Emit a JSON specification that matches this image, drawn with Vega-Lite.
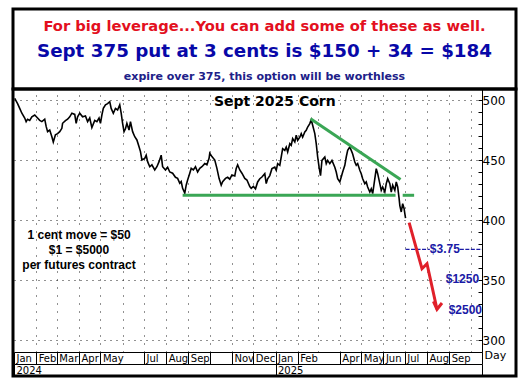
{
"$schema": "https://vega.github.io/schema/vega-lite/v6.json",
"padding": {"left": 10, "top": 7, "right": 6, "bottom": 9},
"background": "white",
"spacing": 0,
"bounds": "flush",
"config": {"view": {"stroke": "black", "strokeWidth": 3}, "font": "DejaVu Sans"},
"datasets": {
"header": [
{"line": 1, "text": "For big leverage...You can add some of these as well."},
{"line": 2, "text": "Sept 375 put at 3 cents is $150 + 34 = $184"},
{"line": 3, "text": "expire over 375, this option will be worthless"}
],
"price": [
{"date":"2024-01-02","price":501.4},{"date":"2024-01-06","price":497},{"date":"2024-01-09","price":493},{"date":"2024-01-12","price":489},{"date":"2024-01-16","price":485},{"date":"2024-01-18","price":482},{"date":"2024-01-20","price":484},{"date":"2024-01-23","price":483},{"date":"2024-01-26","price":486},{"date":"2024-01-30","price":487.5},
{"date":"2024-02-02","price":485.6},{"date":"2024-02-06","price":483},{"date":"2024-02-09","price":482},{"date":"2024-02-13","price":484},{"date":"2024-02-15","price":478},{"date":"2024-02-17","price":473.6},{"date":"2024-02-20","price":475},{"date":"2024-02-23","price":469.4},{"date":"2024-02-25","price":465},{"date":"2024-02-28","price":471},
{"date":"2024-03-02","price":472},{"date":"2024-03-05","price":473.6},{"date":"2024-03-08","price":476.4},{"date":"2024-03-09","price":480.6},{"date":"2024-03-13","price":482.8},{"date":"2024-03-16","price":484},{"date":"2024-03-19","price":486},{"date":"2024-03-22","price":489},{"date":"2024-03-26","price":488},{"date":"2024-03-28","price":480.6},{"date":"2024-03-30","price":486},
{"date":"2024-04-02","price":489},{"date":"2024-04-06","price":486},{"date":"2024-04-10","price":486.7},{"date":"2024-04-13","price":482},{"date":"2024-04-16","price":485},{"date":"2024-04-19","price":477},{"date":"2024-04-23","price":483},{"date":"2024-04-26","price":482},{"date":"2024-04-29","price":485},
{"date":"2024-05-01","price":480.6},{"date":"2024-05-03","price":487.5},{"date":"2024-05-05","price":493},{"date":"2024-05-08","price":496},{"date":"2024-05-11","price":497},{"date":"2024-05-14","price":498.6},{"date":"2024-05-16","price":493},{"date":"2024-05-19","price":489},{"date":"2024-05-22","price":493},{"date":"2024-05-25","price":491.7},{"date":"2024-05-28","price":496},{"date":"2024-05-30","price":489},
{"date":"2024-06-01","price":480.6},{"date":"2024-06-03","price":473.6},{"date":"2024-06-05","price":476},{"date":"2024-06-07","price":480.6},{"date":"2024-06-10","price":475},{"date":"2024-06-12","price":482},{"date":"2024-06-15","price":473.6},{"date":"2024-06-18","price":469.4},{"date":"2024-06-21","price":466.7},{"date":"2024-06-24","price":461},{"date":"2024-06-26","price":457},{"date":"2024-06-28","price":450},
{"date":"2024-07-02","price":451.4},{"date":"2024-07-04","price":454},{"date":"2024-07-06","price":448.6},{"date":"2024-07-09","price":444.4},{"date":"2024-07-12","price":446},{"date":"2024-07-16","price":441.7},{"date":"2024-07-19","price":444.4},{"date":"2024-07-22","price":448.6},{"date":"2024-07-25","price":454},{"date":"2024-07-27","price":444.4},{"date":"2024-07-31","price":441.7},
{"date":"2024-08-03","price":444},{"date":"2024-08-06","price":440},{"date":"2024-08-10","price":439},{"date":"2024-08-14","price":435.6},{"date":"2024-08-17","price":434.7},{"date":"2024-08-20","price":430.6},{"date":"2024-08-22","price":432},{"date":"2024-08-24","price":426.4},{"date":"2024-08-27","price":422.5},{"date":"2024-08-29","price":429},{"date":"2024-08-31","price":433.3},
{"date":"2024-09-03","price":439},{"date":"2024-09-05","price":443},{"date":"2024-09-08","price":441.7},{"date":"2024-09-11","price":444.4},{"date":"2024-09-14","price":440},{"date":"2024-09-17","price":443},{"date":"2024-09-20","price":444.4},{"date":"2024-09-24","price":447},{"date":"2024-09-27","price":446},{"date":"2024-09-30","price":451.4},
{"date":"2024-10-01","price":455.6},{"date":"2024-10-04","price":452.8},{"date":"2024-10-08","price":450},{"date":"2024-10-11","price":443},{"date":"2024-10-14","price":434.7},{"date":"2024-10-17","price":429},{"date":"2024-10-19","price":432},{"date":"2024-10-23","price":434.7},{"date":"2024-10-26","price":435.6},{"date":"2024-10-29","price":434},
{"date":"2024-11-01","price":437.5},{"date":"2024-11-05","price":436.7},{"date":"2024-11-07","price":443},{"date":"2024-11-09","price":446},{"date":"2024-11-12","price":441.7},{"date":"2024-11-15","price":439},{"date":"2024-11-19","price":434.7},{"date":"2024-11-22","price":433.3},{"date":"2024-11-26","price":427.8},{"date":"2024-11-28","price":426.4},
{"date":"2024-12-01","price":428},{"date":"2024-12-04","price":426},{"date":"2024-12-07","price":431.7},{"date":"2024-12-10","price":434.4},{"date":"2024-12-13","price":435.8},{"date":"2024-12-17","price":438.6},{"date":"2024-12-19","price":430.3},{"date":"2024-12-21","price":434.4},{"date":"2024-12-24","price":437},{"date":"2024-12-27","price":442.8},{"date":"2024-12-31","price":444},
{"date":"2025-01-02","price":441.4},{"date":"2025-01-04","price":447},{"date":"2025-01-07","price":445.6},{"date":"2025-01-09","price":452.5},{"date":"2025-01-11","price":459.4},{"date":"2025-01-14","price":458},{"date":"2025-01-16","price":460.8},{"date":"2025-01-18","price":456.7},{"date":"2025-01-21","price":463.6},{"date":"2025-01-23","price":462.2},{"date":"2025-01-25","price":467.8},{"date":"2025-01-28","price":465},{"date":"2025-01-30","price":470.6},
{"date":"2025-02-01","price":466.4},{"date":"2025-02-04","price":469},{"date":"2025-02-06","price":472},{"date":"2025-02-08","price":469},{"date":"2025-02-11","price":473.3},{"date":"2025-02-13","price":474.7},{"date":"2025-02-15","price":477.5},{"date":"2025-02-18","price":480.3},{"date":"2025-02-20","price":483.6},{"date":"2025-02-22","price":479},{"date":"2025-02-25","price":472},{"date":"2025-02-27","price":463.6},
{"date":"2025-03-01","price":452.5},{"date":"2025-03-03","price":444},{"date":"2025-03-05","price":437},{"date":"2025-03-07","price":449.7},{"date":"2025-03-11","price":452.5},{"date":"2025-03-13","price":447},{"date":"2025-03-15","price":449.7},{"date":"2025-03-18","price":447},{"date":"2025-03-21","price":449.7},{"date":"2025-03-25","price":444},{"date":"2025-03-27","price":440},{"date":"2025-03-29","price":434.4},
{"date":"2025-04-01","price":431.7},{"date":"2025-04-03","price":435.8},{"date":"2025-04-05","price":440},{"date":"2025-04-08","price":445.6},{"date":"2025-04-10","price":452.5},{"date":"2025-04-12","price":458},{"date":"2025-04-15","price":460.8},{"date":"2025-04-17","price":458},{"date":"2025-04-19","price":455},{"date":"2025-04-22","price":448.3},{"date":"2025-04-24","price":445.6},{"date":"2025-04-26","price":447},{"date":"2025-04-29","price":441.4},
{"date":"2025-05-01","price":438.6},{"date":"2025-05-03","price":434.4},{"date":"2025-05-06","price":430.3},{"date":"2025-05-08","price":431.7},{"date":"2025-05-10","price":427.5},{"date":"2025-05-13","price":423.3},{"date":"2025-05-15","price":426},{"date":"2025-05-17","price":422},{"date":"2025-05-20","price":434.4},{"date":"2025-05-22","price":442.8},{"date":"2025-05-24","price":438.6},{"date":"2025-05-27","price":430.3},{"date":"2025-05-29","price":424.7},{"date":"2025-05-31","price":427.5},
{"date":"2025-06-03","price":423.3},{"date":"2025-06-05","price":430.3},{"date":"2025-06-07","price":434.4},{"date":"2025-06-10","price":430.3},{"date":"2025-06-12","price":423.3},{"date":"2025-06-14","price":429},{"date":"2025-06-17","price":424.7},{"date":"2025-06-19","price":431.7},{"date":"2025-06-21","price":427.5},{"date":"2025-06-23","price":417.8},{"date":"2025-06-24","price":412},{"date":"2025-06-26","price":406.7},{"date":"2025-06-28","price":413.6},{"date":"2025-06-30","price":409.4},{"date":"2025-07-01","price":405.3},{"date":"2025-07-02","price":401.5}
],
"support": [
{"seg":"a","date":"2024-08-24","price":420.6},{"seg":"a","date":"2025-06-18","price":420.6},
{"seg":"b","date":"2025-06-28","price":420.6},{"seg":"b","date":"2025-07-14","price":420.6}
],
"trend": [
{"date":"2025-02-19","price":484.4},{"date":"2025-06-25","price":433.8}
],
"arrow": [
{"part":"shaft","ord":1,"date":"2025-07-07","price":397.8},{"part":"shaft","ord":2,"date":"2025-07-25","price":359.4},{"part":"shaft","ord":3,"date":"2025-08-01","price":363.6},{"part":"shaft","ord":4,"date":"2025-08-15","price":325.6},
{"part":"head","ord":1,"date":"2025-08-10","price":332.2},{"part":"head","ord":2,"date":"2025-08-15","price":325.6},{"part":"head","ord":3,"date":"2025-08-22","price":330.8}
],
"strike": [
{"seg":"a","date":"2025-07-02","price":375.5},{"seg":"a","date":"2025-08-05","price":375.5},
{"seg":"b","date":"2025-09-16","price":375.5},{"seg":"b","date":"2025-10-17","price":375.5}
],
"notes": [
{"kind":"title","date":"2024-12-31","price":498,"text":"Sept 2025 Corn"},
{"kind":"note","date":"2024-04-01","price":387.2,"text":"1 cent move = $50"},
{"kind":"note","date":"2024-04-01","price":374.7,"text":"$1 = $5000"},
{"kind":"note","date":"2024-04-01","price":362.2,"text":"per futures contract"},
{"kind":"strike","date":"2025-08-26","price":375.5,"text":"$3.75"},
{"kind":"payoff","date":"2025-10-13","price":350.5,"text":"$1250"},
{"kind":"payoff","date":"2025-10-17","price":324.7,"text":"$2500"}
]
},
"vconcat": [
{
"width": 503, "height": 80,
"data": {"name": "header"},
"encoding": {"y": {"field": "line", "type": "ordinal", "axis": null, "scale": {"type": "band", "paddingInner": 0, "paddingOuter": 0.1, "align": 1}}},
"layer": [
{"transform": [{"filter": "datum.line == 1"}], "mark": {"type": "text", "font": "DejaVu Sans", "fontWeight": "bold", "fontSize": 14.7, "color": "#e3101e", "baseline": "middle"}, "encoding": {"text": {"field": "text"}}},
{"transform": [{"filter": "datum.line == 2"}], "mark": {"type": "text", "font": "DejaVu Sans", "fontWeight": "bold", "fontSize": 18.3, "color": "#0808a8", "baseline": "middle"}, "encoding": {"text": {"field": "text"}}},
{"transform": [{"filter": "datum.line == 3"}], "mark": {"type": "text", "font": "DejaVu Sans", "fontWeight": "bold", "fontSize": 11, "color": "#202088", "baseline": "middle"}, "encoding": {"text": {"field": "text"}}}
]
},
{
"width": 503, "height": 287,
"resolve": {"axis": {"x": "independent", "y": "independent"}},
"layer": [
{
"data": {"name": "price"},
"mark": {"type": "line", "color": "black", "strokeWidth": 1.6},
"encoding": {
"x": {"field": "date", "type": "temporal",
"scale": {"type": "utc", "nice": false, "domain": [{"year":2024,"month":1,"date":1,"utc":true},{"year":2025,"month":10,"date":17,"utc":true}], "range": [1, 469]},
"axis": {"orient": "bottom", "offset": -24, "title": null,
"values": [{"year":2024,"month":1,"date":1,"utc":true},{"year":2024,"month":2,"date":1,"utc":true},{"year":2024,"month":3,"date":1,"utc":true},{"year":2024,"month":4,"date":1,"utc":true},{"year":2024,"month":5,"date":1,"utc":true},{"year":2024,"month":7,"date":1,"utc":true},{"year":2024,"month":8,"date":1,"utc":true},{"year":2024,"month":9,"date":1,"utc":true},{"year":2024,"month":10,"date":1,"utc":true},{"year":2024,"month":11,"date":1,"utc":true},{"year":2024,"month":12,"date":1,"utc":true},{"year":2025,"month":1,"date":1,"utc":true},{"year":2025,"month":2,"date":1,"utc":true},{"year":2025,"month":4,"date":1,"utc":true},{"year":2025,"month":5,"date":1,"utc":true},{"year":2025,"month":6,"date":1,"utc":true},{"year":2025,"month":7,"date":1,"utc":true},{"year":2025,"month":8,"date":1,"utc":true},{"year":2025,"month":9,"date":1,"utc":true},{"year":2025,"month":10,"date":17,"utc":true}],
"labelExpr": "utcmonth(datum.value) == 9 ? '' : utcFormat(datum.value, '%b')",
"labelAlign": "left", "labelBaseline": "top", "labelPadding": -11, "labelOffset": 2,
"labelFlush": false, "labelOverlap": false, "labelBound": false,
"labelFont": "DejaVu Sans", "labelFontSize": 10, "labelColor": "black",
"tickSize": 12, "tickColor": "black", "tickWidth": 1,
"domainColor": "black", "domainWidth": 1, "grid": false}},
"y": {"field": "price", "type": "quantitative",
"scale": {"domain": [290, 509.17], "range": [263, 0], "nice": false, "zero": false},
"axis": {"orient": "right", "offset": -34, "title": "Day",
"values": [290,300,310,320,330,340,350,360,370,380,390,400,410,420,430,440,450,460,470,480,490,500],
"labelExpr": "datum.value % 50 == 0 ? datum.label : ''",
"labelAlign": "left", "labelBaseline": "middle", "labelPadding": 4, "labelOverlap": false,
"labelFont": "DejaVu Sans", "labelFontSize": 12, "labelColor": "black",
"tickSize": -4, "tickColor": "black", "domainColor": "black", "domainWidth": 1, "grid": false,
"titleAngle": 0, "titleX": 2, "titleY": 266, "titleAlign": "left", "titleBaseline": "middle",
"titleFont": "DejaVu Sans", "titleFontSize": 11, "titleFontWeight": "normal", "titleColor": "black"}}
}
},
{
"data": {"name": "support"},
"mark": {"type": "line", "color": "#3aa655", "strokeWidth": 3},
"encoding": {
"x": {"field": "date", "type": "temporal",
"scale": {"type": "utc", "nice": false, "domain": [{"year":2024,"month":1,"date":1,"utc":true},{"year":2025,"month":10,"date":17,"utc":true}], "range": [1, 469]},
"axis": {"orient": "bottom", "offset": -12, "title": null,
"values": [{"year":2024,"month":1,"date":1,"utc":true},{"year":2025,"month":1,"date":1,"utc":true},{"year":2025,"month":10,"date":17,"utc":true}],
"labelExpr": "utcmonth(datum.value) == 9 ? '' : utcFormat(datum.value, '%Y')",
"labelAlign": "left", "labelBaseline": "top", "labelPadding": -11, "labelOffset": 2,
"labelFlush": false, "labelOverlap": false, "labelBound": false,
"labelFont": "DejaVu Sans", "labelFontSize": 10, "labelColor": "black",
"tickSize": 12, "tickColor": "black", "tickWidth": 1,
"domainColor": "black", "domainWidth": 1, "grid": false}},
"y": {"field": "price", "type": "quantitative",
"scale": {"domain": [290, 509.17], "range": [263, 0], "nice": false, "zero": false},
"axis": {"orient": "left", "values": [300, 350, 400, 450, 500], "grid": true, "gridColor": "#222", "gridDash": [1, 5], "gridWidth": 1,
"domain": false, "ticks": false, "labels": false, "title": null}},
"detail": {"field": "seg"}
}
},
{
"data": {"name": "trend"},
"mark": {"type": "line", "color": "#3aa655", "strokeWidth": 3},
"encoding": {
"x": {"field": "date", "type": "temporal",
"scale": {"type": "utc", "nice": false, "domain": [{"year":2024,"month":1,"date":1,"utc":true},{"year":2025,"month":10,"date":17,"utc":true}], "range": [1, 469]},
"axis": {"orient": "top", "title": null, "domain": false, "ticks": false, "labels": false,
"grid": true, "gridColor": "#222", "gridDash": [1, 7], "gridWidth": 1,
"values": [{"year":2024,"month":2,"date":1,"utc":true},{"year":2024,"month":3,"date":1,"utc":true},{"year":2024,"month":4,"date":1,"utc":true},{"year":2024,"month":5,"date":1,"utc":true},{"year":2024,"month":6,"date":1,"utc":true},{"year":2024,"month":7,"date":1,"utc":true},{"year":2024,"month":8,"date":1,"utc":true},{"year":2024,"month":9,"date":1,"utc":true},{"year":2024,"month":10,"date":1,"utc":true},{"year":2024,"month":11,"date":1,"utc":true},{"year":2024,"month":12,"date":1,"utc":true},{"year":2025,"month":1,"date":1,"utc":true},{"year":2025,"month":2,"date":1,"utc":true},{"year":2025,"month":3,"date":1,"utc":true},{"year":2025,"month":4,"date":1,"utc":true},{"year":2025,"month":5,"date":1,"utc":true},{"year":2025,"month":6,"date":1,"utc":true},{"year":2025,"month":7,"date":1,"utc":true},{"year":2025,"month":8,"date":1,"utc":true},{"year":2025,"month":9,"date":1,"utc":true},{"year":2025,"month":10,"date":1,"utc":true}]}},
"y": {"field": "price", "type": "quantitative", "scale": {"domain": [290, 509.17], "range": [263, 0], "nice": false, "zero": false}, "axis": null}
}
},
{
"data": {"name": "strike"},
"mark": {"type": "line", "color": "#1a1aa6", "strokeWidth": 1.2, "strokeDash": [4, 1.5]},
"encoding": {
"x": {"field": "date", "type": "temporal", "scale": {"type": "utc", "nice": false, "domain": [{"year":2024,"month":1,"date":1,"utc":true},{"year":2025,"month":10,"date":17,"utc":true}], "range": [1, 469]}, "axis": null},
"y": {"field": "price", "type": "quantitative", "scale": {"domain": [290, 509.17], "range": [263, 0], "nice": false, "zero": false}, "axis": null},
"detail": {"field": "seg"}
}
},
{
"data": {"name": "arrow"},
"mark": {"type": "line", "color": "#e0202a", "strokeWidth": 3, "strokeJoin": "miter"},
"encoding": {
"x": {"field": "date", "type": "temporal", "scale": {"type": "utc", "nice": false, "domain": [{"year":2024,"month":1,"date":1,"utc":true},{"year":2025,"month":10,"date":17,"utc":true}], "range": [1, 469]}, "axis": null},
"y": {"field": "price", "type": "quantitative", "scale": {"domain": [290, 509.17], "range": [263, 0], "nice": false, "zero": false}, "axis": null},
"detail": {"field": "part"},
"order": {"field": "ord", "type": "quantitative"}
}
},
{
"data": {"name": "notes"},
"transform": [{"filter": "datum.kind == 'title'"}],
"mark": {"type": "text", "font": "DejaVu Sans", "fontWeight": "bold", "fontSize": 14, "color": "black", "align": "center", "baseline": "middle"},
"encoding": {
"x": {"field": "date", "type": "temporal", "scale": {"type": "utc", "nice": false, "domain": [{"year":2024,"month":1,"date":1,"utc":true},{"year":2025,"month":10,"date":17,"utc":true}], "range": [1, 469]}, "axis": null},
"y": {"field": "price", "type": "quantitative", "scale": {"domain": [290, 509.17], "range": [263, 0], "nice": false, "zero": false}, "axis": null},
"text": {"field": "text"}
}
},
{
"data": {"name": "notes"},
"transform": [{"filter": "datum.kind == 'note'"}],
"mark": {"type": "text", "font": "Liberation Sans", "fontWeight": "bold", "fontSize": 12, "color": "black", "align": "center", "baseline": "middle"},
"encoding": {
"x": {"field": "date", "type": "temporal", "scale": {"type": "utc", "nice": false, "domain": [{"year":2024,"month":1,"date":1,"utc":true},{"year":2025,"month":10,"date":17,"utc":true}], "range": [1, 469]}, "axis": null},
"y": {"field": "price", "type": "quantitative", "scale": {"domain": [290, 509.17], "range": [263, 0], "nice": false, "zero": false}, "axis": null},
"text": {"field": "text"}
}
},
{
"data": {"name": "notes"},
"transform": [{"filter": "datum.kind == 'strike'"}],
"mark": {"type": "text", "font": "Liberation Sans", "fontWeight": "bold", "fontSize": 12, "color": "#1a1aa6", "align": "center", "baseline": "middle"},
"encoding": {
"x": {"field": "date", "type": "temporal", "scale": {"type": "utc", "nice": false, "domain": [{"year":2024,"month":1,"date":1,"utc":true},{"year":2025,"month":10,"date":17,"utc":true}], "range": [1, 469]}, "axis": null},
"y": {"field": "price", "type": "quantitative", "scale": {"domain": [290, 509.17], "range": [263, 0], "nice": false, "zero": false}, "axis": null},
"text": {"field": "text"}
}
},
{
"data": {"name": "notes"},
"transform": [{"filter": "datum.kind == 'payoff'"}],
"mark": {"type": "text", "font": "Liberation Sans", "fontWeight": "bold", "fontSize": 12, "color": "#1a1aa6", "align": "right", "baseline": "middle"},
"encoding": {
"x": {"field": "date", "type": "temporal", "scale": {"type": "utc", "nice": false, "domain": [{"year":2024,"month":1,"date":1,"utc":true},{"year":2025,"month":10,"date":17,"utc":true}], "range": [1, 469]}, "axis": null},
"y": {"field": "price", "type": "quantitative", "scale": {"domain": [290, 509.17], "range": [263, 0], "nice": false, "zero": false}, "axis": null},
"text": {"field": "text"}
}
}
]
}
]
}
